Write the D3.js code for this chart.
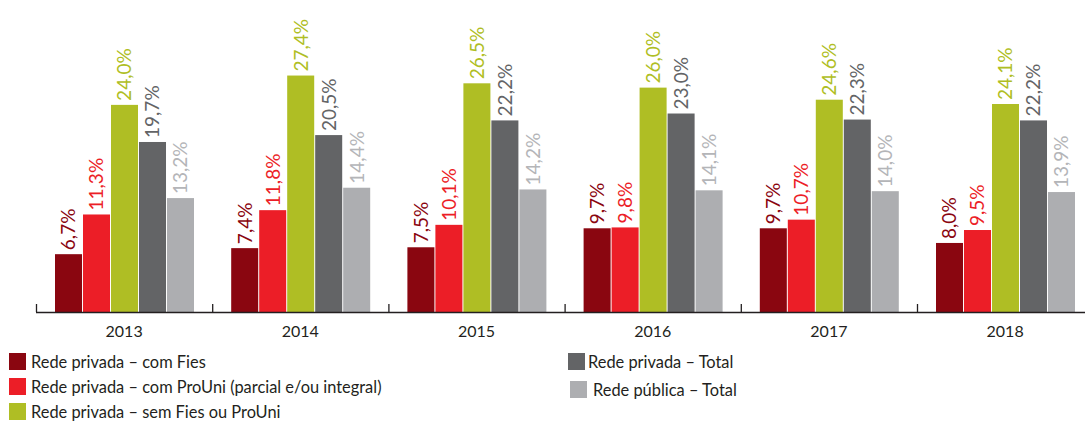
<!DOCTYPE html>
<html>
<head>
<meta charset="utf-8">
<script src="https://cdn.jsdelivr.net/npm/d3@7"></script>
<style>
  body { margin: 0; background: #fff; }
  svg text { font-family: Lato, "Open Sans", sans-serif; }
</style>
</head>
<body>
<svg id="chart" width="1085" height="423"></svg>
<script>
// data
var years = ["2013", "2014", "2015", "2016", "2017", "2018"];
var seriesNames = [
  "Rede privada – com Fies",
  "Rede privada – com ProUni (parcial e/ou integral)",
  "Rede privada – sem Fies ou ProUni",
  "Rede privada – Total",
  "Rede pública – Total"
];
var comFies = [6.7, 7.4, 7.5, 9.7, 9.7, 8.0];
var comProUni = [11.3, 11.8, 10.1, 9.8, 10.7, 9.5];
var semFiesProUni = [24.0, 27.4, 26.5, 26.0, 24.6, 24.1];
var privadaTotal = [19.7, 20.5, 22.2, 23.0, 22.3, 22.2];
var publicaTotal = [13.2, 14.4, 14.2, 14.1, 14.0, 13.9];

var colors = ["#8a0610", "#ec1e27", "#afbe24", "#636466", "#adaeb1"];
var labelColors = ["#8a0610", "#ec1e27", "#afbe24", "#636466", "#b4b5b8"];

var allSeries = [comFies, comProUni, semFiesProUni, privadaTotal, publicaTotal];

var width = 1085, axisY = 312;
var svg = d3.select("#chart");

// scales
var x = d3.scaleBand().domain(years).range([36, 36 + 6 * 176.2]);
var x1 = d3.scaleBand().domain(d3.range(5)).range([19, 158]).paddingInner(0.035);
var y = d3.scaleLinear().domain([0, 30]).range([axisY, axisY - 30 * 8.63]);

var fmt = function (v) { return d3.format(".1f")(v).replace(".", ",") + "%"; };

// flatten into one list of bars
var bars = [];
years.forEach(function (yr, i) {
  allSeries.forEach(function (s, k) {
    bars.push({ year: yr, k: k, v: s[i] });
  });
});

svg.append("g").selectAll("rect")
  .data(bars)
  .enter().append("rect")
  .attr("x", function (d) { return x(d.year) + x1(d.k); })
  .attr("width", x1.bandwidth())
  .attr("y", function (d) { return y(d.v); })
  .attr("height", function (d) { return y(0) - y(d.v); })
  .attr("fill", function (d) { return colors[d.k]; });

// value labels, rotated
svg.append("g").selectAll("text")
  .data(bars)
  .enter().append("text")
  .attr("transform", function (d) {
    var cx = x(d.year) + x1(d.k) + x1.bandwidth() / 2;
    return "translate(" + cx + "," + (y(d.v) - 4) + ") rotate(-90)";
  })
  .attr("dy", "0.36em")
  .style("font-size", "19px")
  .attr("fill", function (d) { return labelColors[d.k]; })
  .text(function (d) { return fmt(d.v); });

// baseline + small ticks at band starts
svg.append("line")
  .attr("x1", x.range()[0]).attr("x2", width)
  .attr("y1", axisY + 0.5).attr("y2", axisY + 0.5)
  .attr("stroke", "#231f20").attr("stroke-width", 1.3);

svg.append("g").selectAll("line")
  .data(years)
  .enter().append("line")
  .attr("x1", function (d) { return x(d) + 0.5; })
  .attr("x2", function (d) { return x(d) + 0.5; })
  .attr("y1", axisY - 8).attr("y2", axisY)
  .attr("stroke", "#231f20").attr("stroke-width", 1.3);

// year labels
var xAxis = svg.append("g")
  .attr("transform", "translate(0," + (axisY + 11) + ")")
  .call(d3.axisBottom(x).tickSize(0));
xAxis.select(".domain").remove();
xAxis.selectAll("text")
  .style("font-size", "16px")
  .style("font-family", "Lato, sans-serif")
  .attr("fill", "#231f20");

// legend
var legendPos = [
  { x: 9, y: 353 }, { x: 9, y: 378 }, { x: 9, y: 403 },
  { x: 568, y: 353 }, { x: 570, y: 381 }
];
var textGap = [5, 5, 5, 3, 6];

var legend = svg.append("g").selectAll("g")
  .data(seriesNames)
  .enter().append("g")
  .attr("transform", function (d, i) {
    return "translate(" + legendPos[i].x + "," + legendPos[i].y + ")";
  });

legend.append("rect")
  .attr("width", 17).attr("height", 17)
  .attr("fill", function (d, i) { return colors[i]; });

legend.append("text")
  .attr("x", function (d, i) { return 17 + textGap[i]; })
  .attr("y", 9)
  .attr("dy", "0.35em")
  .style("font-size", "16.4px")
  .attr("fill", "#231f20")
  .text(function (d) { return d; });
</script>
</body>
</html>
